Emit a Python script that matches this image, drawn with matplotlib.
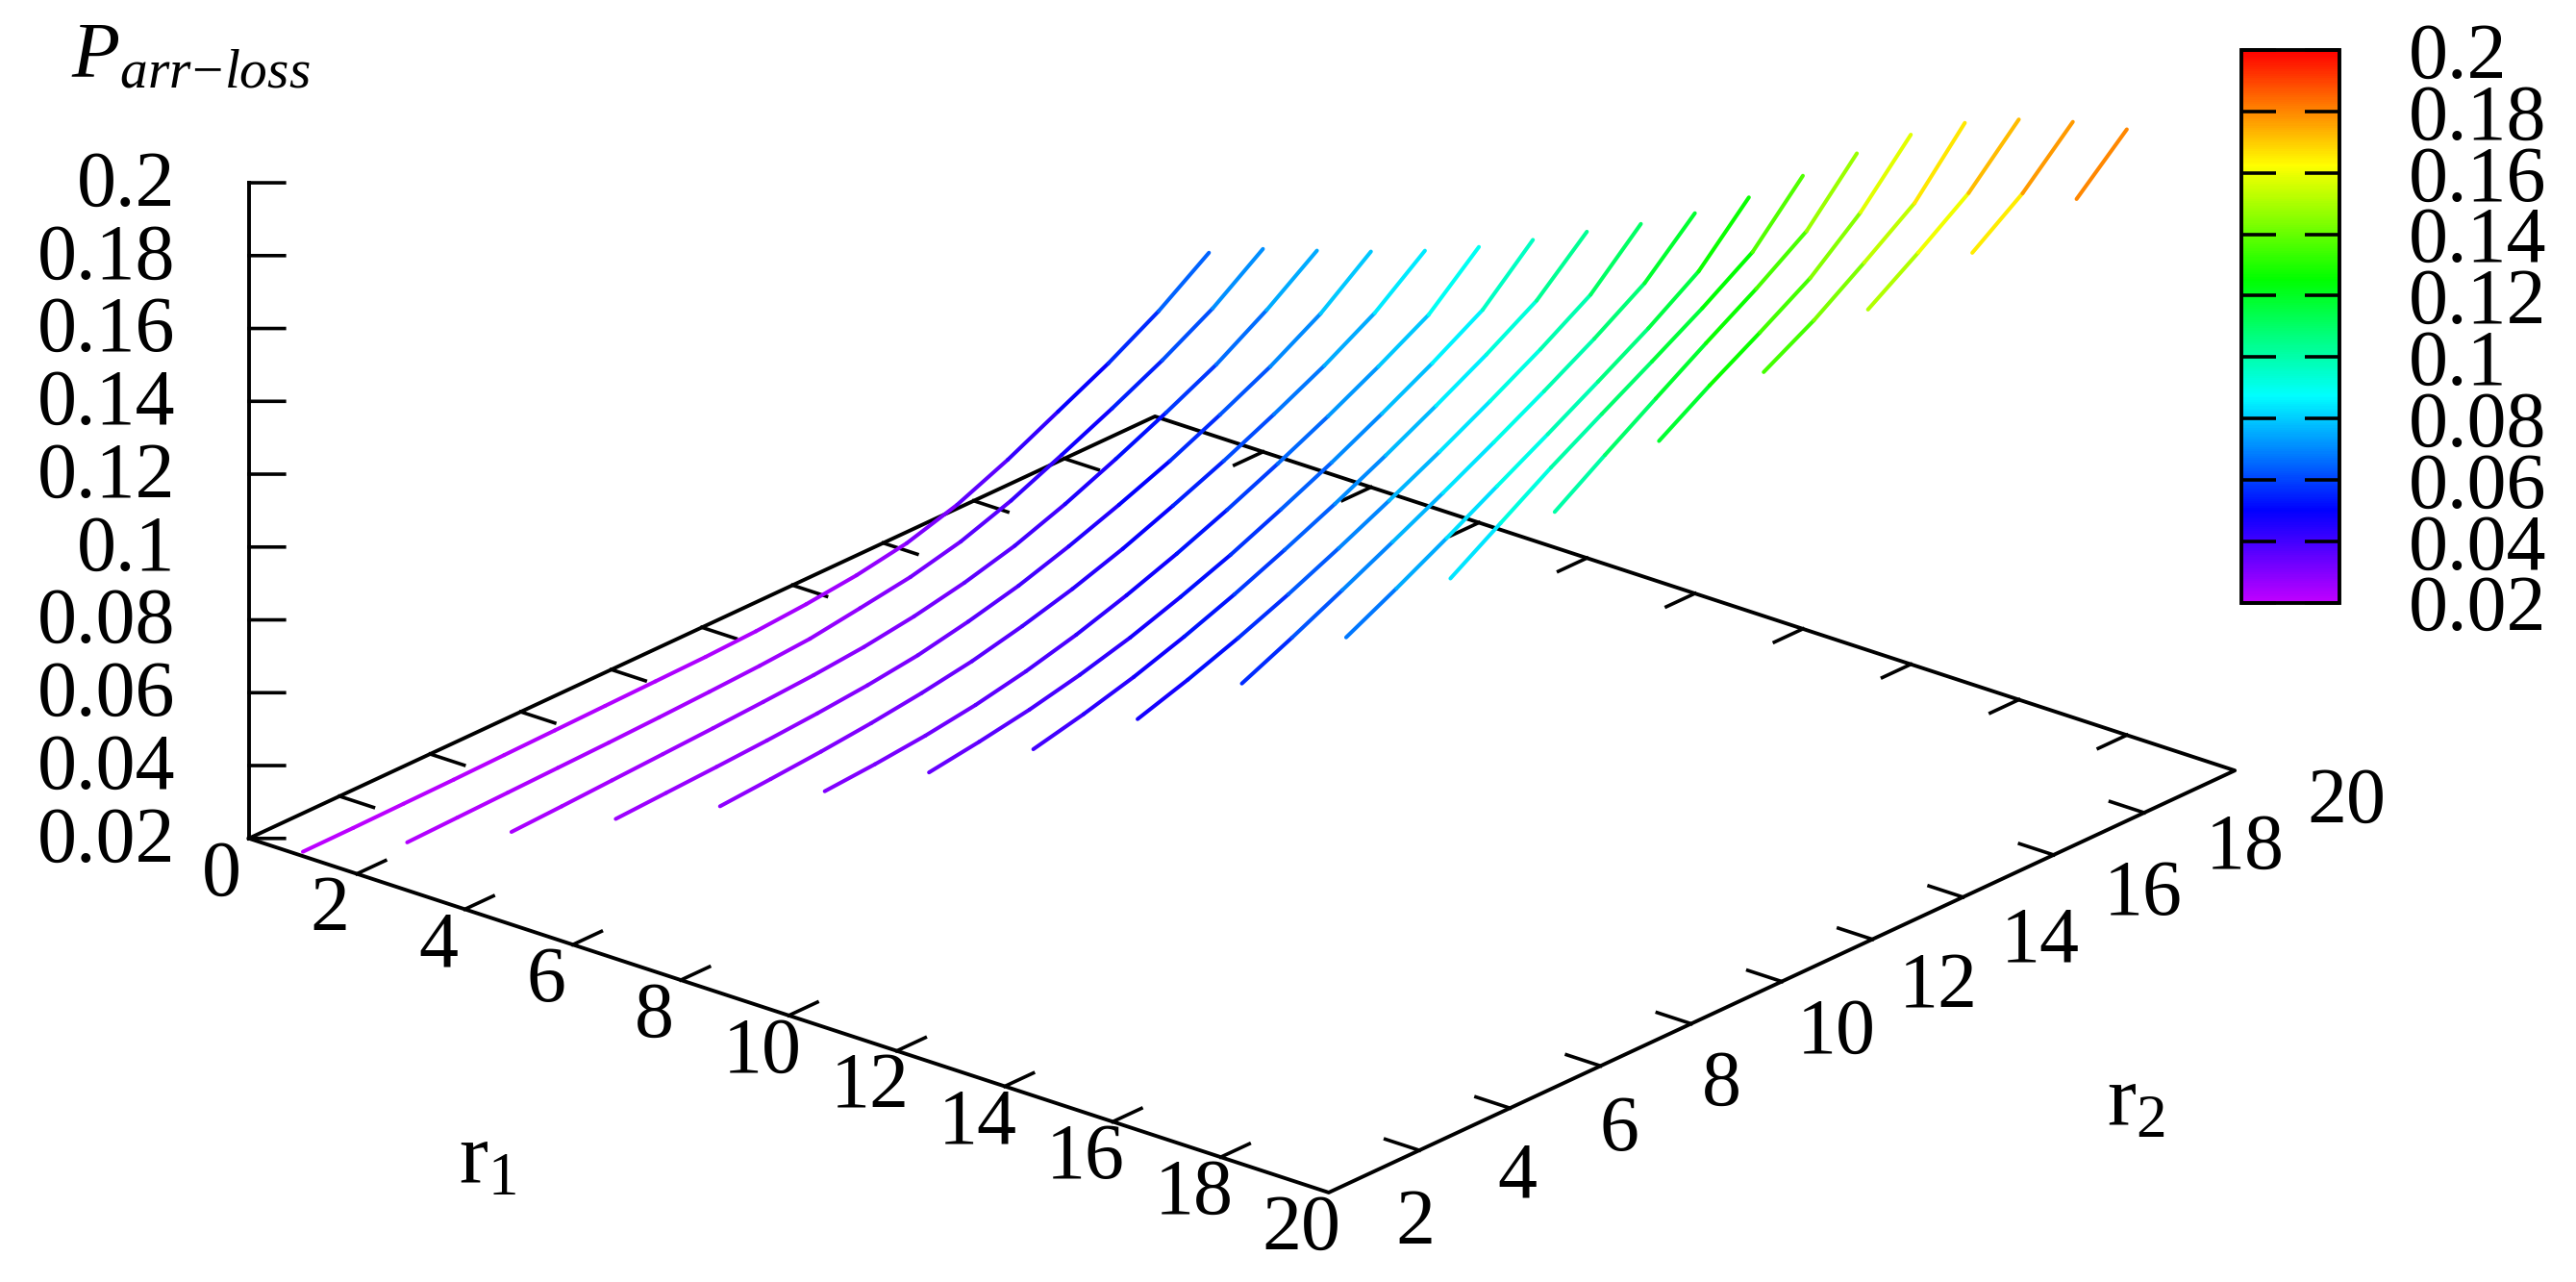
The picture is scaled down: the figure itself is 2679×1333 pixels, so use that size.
#!/usr/bin/env python3
# -*- coding: utf-8 -*-
"""
P_arr-loss surface lines over r1 / r2 (gnuplot look, view 67,50)
"""

import numpy as np
import matplotlib
matplotlib.use('Agg')
import matplotlib.pyplot as plt
from matplotlib.cm import ScalarMappable
from matplotlib.colors import LinearSegmentedColormap, Normalize
from mpl_toolkits.mplot3d import proj3d
from mpl_toolkits.mplot3d.art3d import Line3DCollection

plt.rcParams['font.family'] = ['Liberation Serif', 'DejaVu Serif']
plt.rcParams['mathtext.fontset'] = 'custom'
plt.rcParams['mathtext.rm'] = 'Liberation Serif'
plt.rcParams['mathtext.it'] = 'Liberation Serif:italic'

# data
r1_values = [1, 2, 3, 4, 5, 6, 7, 8, 9, 10, 11, 12, 13, 14, 15, 16, 17, 18]
r2_values = [0, 1.11, 2.22, 3.33, 4.44, 5.56, 6.67, 7.78, 8.89, 10,
             11.11, 12.22, 13.33, 14.44, 15.56, 16.67, 17.78, 18.89, 20]

# one list per r1, each one ends at r2 = 20
p_curves = [
    [.0212, .0213, .0215, .0217, .0220, .0223, .0226, .0229, .0232, .0238,
     .0248, .0263, .0287, .0328, .0387, .0455, .0523, .0602, .0698],
    [.0222, .0226, .0230, .0234, .0238, .0243, .0249, .0256, .0266, .0286,
     .0307, .0340, .0388, .0449, .0512, .0580, .0658, .0757],
    [.0235, .0241, .0248, .0255, .0262, .0270, .0279, .0292, .0312, .0340,
     .0377, .0427, .0486, .0549, .0617, .0702, .0801],
    [.0255, .0262, .0269, .0277, .0287, .0300, .0318, .0346, .0380, .0424,
     .0474, .0529, .0592, .0660, .0741, .0847],
    [.0274, .0284, .0295, .0309, .0327, .0350, .0382, .0420, .0466, .0520,
     .0578, .0642, .0711, .0791, .0898],
    [.0299, .0309, .0323, .0343, .0371, .0407, .0451, .0501, .0557, .0619,
     .0685, .0757, .0835, .0957],
    [.0335, .0355, .0379, .0410, .0448, .0495, .0547, .0607, .0671, .0741,
     .0815, .0897, .1025],
    [.0383, .0415, .0453, .0499, .0551, .0609, .0671, .0739, .0811, .0887,
     .0971, .1096],
    [.0450, .0494, .0544, .0600, .0662, .0728, .0798, .0872, .0950, .1036, .1166],
    [.0532, .0594, .0660, .0728, .0798, .0872, .0948, .1028, .1116, .1244],
    [.0643, .0713, .0787, .0865, .0943, .1023, .1105, .1197, .1336],
    [.0789, .0877, .0965, .1047, .1127, .1209, .1299, .1444],
    [.0956, .1048, .1138, .1226, .1311, .1405, .1554],
    [.1135, .1223, .1304, .1389, .1505, .1654],
    [.1308, .1386, .1480, .1579, .1735],
    [.1464, .1556, .1655, .1793],
    [.1604, .1703, .1835],
    [.1736, .1863],
]

xy_ticks = [2, 4, 6, 8, 10, 12, 14, 16, 18]
xy_labels = [0, 2, 4, 6, 8, 10, 12, 14, 16, 18, 20]
r2_labels = [2, 4, 6, 8, 10, 12, 14, 16, 18, 20]
z_ticks = [0.02, 0.04, 0.06, 0.08, 0.1, 0.12, 0.14, 0.16, 0.18, 0.2]
z_labels = ['0.02', '0.04', '0.06', '0.08', '0.1', '0.12', '0.14', '0.16', '0.18', '0.2']

W, H = 2679, 1333
FS = 59
LW_AX = 2.8
LW_TICK = 2.6

palette = LinearSegmentedColormap.from_list('rainbow_gp', [
    (0.0, '#c000ff'), (0.166, '#0000ff'), (0.374, '#00ffff'),
    (0.585, '#00ff00'), (0.792, '#ffff00'), (1.0, '#ff0000')])
norm = Normalize(0.02, 0.2)

fig = plt.figure(figsize=(W / 100, H / 100), dpi=100, facecolor='white')

# box sides in reference pixels, the axes rectangle follows from mplot3d's scaling
box = np.array([1466, 1466, 740.6])
scale = 1.8294640721620434 * 25 / 24 / np.linalg.norm(box)
px_unit = 10 / scale
cx, cy = 1291.5, 495.6
side = 0.185 * px_unit
left = cx - 0.095 * px_unit
bottom = H - (cy + 0.095 * px_unit)
ax = fig.add_axes([left / W, bottom / H, side / W, side / H],
                  projection='3d', proj_type='ortho', computed_zorder=False)
ax.view_init(elev=23, azim=-50)
ax.set_box_aspect(box)
ax.set_xlim(0, 20)
ax.set_ylim(0, 20)
ax.set_zlim(0.02, 0.2)
ax.set_axis_off()


def line(xs, ys, zs, lw=LW_TICK):
    ax.plot(xs, ys, zs, color='black', lw=lw, solid_capstyle='projecting', zorder=2)


def label(x, y, z, text, dx, dy, ha='center', va='center'):
    # dx, dy in pixels, dy downwards like the picture
    X, Y, _ = proj3d.proj_transform(x, y, z, ax.get_proj())
    ax.annotate(text, (X, Y), xytext=(dx, -dy), textcoords='offset pixels',
                ha=ha, va=va, fontsize=FS, color='black', zorder=5)


# base frame and z axis
line([0, 20, 20, 0, 0], [0, 0, 20, 20, 0], [0.02] * 5, lw=LW_AX)
line([0, 0], [0, 0], [0.02, 0.2], lw=LW_AX)

# ticks on all four edges
TL = 0.63
for t in xy_ticks:
    line([t, t], [0, TL], [0.02, 0.02])
    line([t, t], [20, 20 - TL], [0.02, 0.02])
    line([0, TL], [t, t], [0.02, 0.02])
    line([20, 20 - TL], [t, t], [0.02, 0.02])
for t in z_ticks:
    line([0, 0.387], [0, 0.324], [t, t])

# curves, one colour per segment
segs = []
vals = []
for r1, curve in zip(r1_values, p_curves):
    r2 = r2_values[-len(curve):]
    for j in range(len(curve) - 1):
        segs.append([(r1, r2[j], curve[j]), (r1, r2[j + 1], curve[j + 1])])
        vals.append((curve[j] + curve[j + 1]) / 2)
lc = Line3DCollection(segs, cmap=palette, norm=norm, linewidths=2.9, zorder=3,
                      capstyle='round')
lc.set_array(np.array(vals))
ax.add_collection3d(lc)

# tick labels
for v in xy_labels:
    label(v, 0, 0.02, str(v), -28, 39)
for v in r2_labels:
    # the single digits sit further left in the picture
    shift = -13 if v < 10 else 0
    down = 8 if v < 10 else 3
    label(20, v, 0.02, str(v), -3.4 + 6 * v + shift, 73 - 2.1 * v + down)
for v, s in zip(z_ticks, z_labels):
    label(0, 0, v, s, -76, 4, ha='right')

# titles
fig.text(507 / W, 1 - 1208 / H, r'$\mathrm{r}_1$', fontsize=65, ha='center', va='center')
fig.text(2221 / W, 1 - 1148 / H, r'$\mathrm{r}_2$', fontsize=65, ha='center', va='center')
fig.text(74 / W, 1 - 80 / H, r'$P_{arr\!-\!loss}$', fontsize=59, ha='left', va='baseline')

# colour box
cax = fig.add_axes([2331 / W, 1 - 626.5 / H, 102 / W, 574.5 / H])
cb = fig.colorbar(ScalarMappable(norm=norm, cmap=palette), cax=cax, ticks=z_ticks)
cb.ax.set_yticklabels(z_labels, va='center_baseline')
cb.outline.set_linewidth(LW_AX)
cb.ax.tick_params(direction='in', length=26, width=LW_TICK, left=True, right=True,
                  labelsize=FS, pad=52)

plt.savefig('out.png', dpi=100)
plt.close()
